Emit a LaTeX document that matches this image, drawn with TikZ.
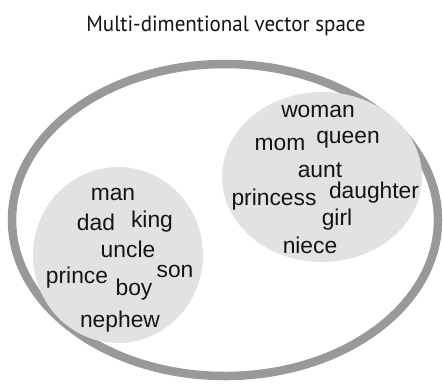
\documentclass[tikz,border=0pt]{standalone}
\usepackage{fontspec}
\setmainfont{Liberation Sans}
\newfontfamily\titlefont{PT Sans}
\usetikzlibrary{shapes.geometric}
\definecolor{ringgray}{HTML}{999999}
\definecolor{blobgray}{HTML}{E2E2E2}
\definecolor{inkdark}{HTML}{141414}
\begin{document}
\begin{tikzpicture}[x=1bp,y=-1bp,
  ring/.style={ellipse, draw=ringgray, line width=8.5bp, inner sep=0pt},
  blob/.style={ellipse, fill=blobgray, draw=none, inner sep=0pt},
  word/.style={anchor=base, inner sep=0pt, text=inkdark,
    font=\fontsize{22.8bp}{27bp}\selectfont},
  heading/.style={anchor=base, inner sep=0pt, text=inkdark,
    font=\titlefont\fontsize{22bp}{26bp}\selectfont}]
\useasboundingbox (0,0) rectangle (443,385);
% outer vector space and the two clusters
\node[ring, minimum width=426bp, minimum height=312bp] (space) at (225,220) {};
\node[blob, minimum width=200bp, minimum height=170bp] (female) at (322,177) {};
\node[blob, minimum width=170bp, minimum height=176bp] (male) at (118,255) {};
% title
\node[heading] (title) at (226,31) {\scalebox{0.955}[1]{Multi-dimentional vector space}};
% female words
\node[word] (woman) at (318,117) {woman};
\node[word] (mom) at (280,150) {mom};
\node[word] (queen) at (348,143) {queen};
\node[word] (aunt) at (320,177) {aunt};
\node[word] (princess) at (274,205) {princess};
\node[word] (daughter) at (374,198) {daughter};
\node[word] (girl) at (337,225) {girl};
\node[word] (niece) at (310,253) {niece};
% male words
\node[word] (man) at (113,200) {man};
\node[word] (dad) at (96,230) {dad};
\node[word] (king) at (152,227) {king};
\node[word] (uncle) at (128,257) {uncle};
\node[word] (prince) at (77,283) {prince};
\node[word] (son) at (175,277) {son};
\node[word] (boy) at (134,295) {boy};
\node[word] (nephew) at (120,327) {nephew};
\end{tikzpicture}
\end{document}
